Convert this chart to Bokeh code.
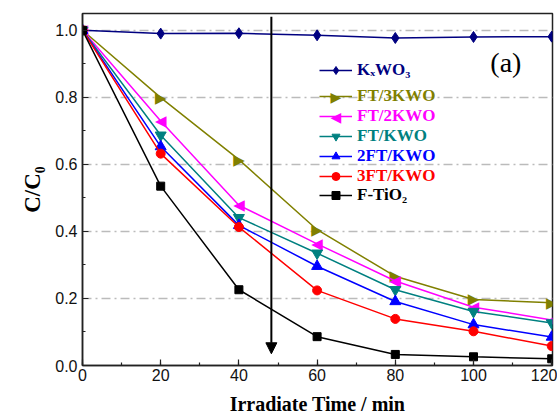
from bokeh.plotting import figure
from bokeh.models import (Range1d, Legend, LegendItem, Label, Arrow, NormalHead,
                          FixedTicker, CustomJSTickFormatter)
from bokeh.core.properties import value
from bokeh.embed import file_html
from bokeh.resources import INLINE

# ---- data ----
time_min = [0, 20, 40, 60, 80, 100, 120]
kxwo3 = [1.0, 0.990, 0.991, 0.985, 0.977, 0.980, 0.981]
ft_3kwo = [1.0, 0.799, 0.614, 0.405, 0.266, 0.197, 0.187]
ft_2kwo = [1.0, 0.729, 0.478, 0.363, 0.252, 0.174, 0.136]
ft_kwo = [1.0, 0.687, 0.441, 0.335, 0.226, 0.161, 0.127]
ft2_kwo = [1.0, 0.653, 0.418, 0.296, 0.191, 0.122, 0.085]
ft3_kwo = [1.0, 0.632, 0.413, 0.224, 0.139, 0.102, 0.058]
f_tio2 = [1.0, 0.535, 0.226, 0.086, 0.033, 0.026, 0.020]

series_labels = ["KₓWO₃", "FT/3KWO", "FT/2KWO", "FT/KWO", "2FT/KWO", "3FT/KWO", "F-TiO₂"]
series_values = [kxwo3, ft_3kwo, ft_2kwo, ft_kwo, ft2_kwo, ft3_kwo, f_tio2]
series_colors = ["#000080", "#808000", "#FF00FF", "#008080", "#0000FF", "#FF0000", "#000000"]
# scatter markers; "right"/"left" are drawn as triangle characters
series_markers = ["diamond", "right", "left", "inverted_triangle", "triangle", "circle", "square"]
series_sizes = [11, 11, 11, 11, 11, 9, 8]
triangle_chars = {"right": "▶", "left": "◀"}

x_ticks = [0, 20, 40, 60, 80, 100, 120]
y_ticks = [0.0, 0.2, 0.4, 0.6, 0.8, 1.0]

arrow_time = 48.3
arrow_from = 1.04
arrow_to = 0.035

X_MAX, Y_MAX = 120.2, 1.05
FRAME_W, FRAME_H = 470, 352

# ---- figure ----
p = figure(width=557, height=417, output_backend="svg", toolbar_location=None,
           x_range=Range1d(0, X_MAX), y_range=Range1d(0, Y_MAX),
           min_border_left=82, min_border_right=5, min_border_top=13, min_border_bottom=52)
p.background_fill_color = "white"
p.border_fill_color = "white"
p.outline_line_color = "#222222"
p.outline_line_width = 1.5

p.xgrid.visible = False
p.ygrid.ticker = FixedTicker(ticks=y_ticks)
p.ygrid.grid_line_color = "#bbbbbb"
p.ygrid.grid_line_width = 1.3
p.ygrid.grid_line_dash = "9 4 2 4"

for ax in (p.xaxis[0], p.yaxis[0]):
    ax.axis_line_color = "#222222"
    ax.axis_line_width = 1.5
    ax.major_tick_in = 6
    ax.major_tick_out = 0
    ax.minor_tick_in = 3
    ax.minor_tick_out = 0
    ax.major_tick_line_color = "#222222"
    ax.minor_tick_line_color = "#222222"
    ax.major_tick_line_width = 1.2
    ax.minor_tick_line_width = 1.2
    ax.major_label_text_font = "Liberation Sans"
    ax.major_label_text_font_size = "16px"
    ax.major_label_text_color = "#111111"
    ax.axis_label_text_font = "Liberation Serif"
    ax.axis_label_text_font_style = "bold"
    ax.axis_label_text_color = "#000000"

p.xaxis.ticker = FixedTicker(ticks=x_ticks, minor_ticks=list(range(0, 121, 10)))
p.yaxis.ticker = FixedTicker(ticks=y_ticks, minor_ticks=[i / 10 for i in range(0, 11)])
p.xaxis.major_label_standoff = 3
p.yaxis.major_label_standoff = 5
p.yaxis.formatter = CustomJSTickFormatter(code="return tick.toFixed(1);")

p.xaxis.axis_label = "Irradiate Time / min"
p.xaxis.axis_label_text_font_size = "20px"
p.xaxis.axis_label_standoff = 9
p.yaxis.axis_label = "C/C₀"
p.yaxis.axis_label_text_font_size = "23px"
p.yaxis.axis_label_standoff = 7

# ---- series ----
legend_rows_py = [70, 96, 116, 136, 156, 176, 195]  # legend row centres (px below plot top)
legend_x_px = 237                                   # legend glyph start (px from frame left)
for lab, vals, col, mk, sz, py in zip(series_labels, series_values, series_colors,
                                      series_markers, series_sizes, legend_rows_py):
    lr = p.line(time_min, vals, line_color=col, line_width=1.5)
    renderers = [lr]
    if mk in triangle_chars:
        ch = triangle_chars[mk]
        p.text(time_min, vals, text=[ch] * len(time_min), text_color=col,
               text_font=value("DejaVu Sans"), text_font_size="15px",
               text_align="center", text_baseline="middle")
        # legend symbol placed at the centre of the legend glyph
        gx = (legend_x_px + 16.5) * X_MAX / FRAME_W
        gy = (365 - py) * Y_MAX / FRAME_H
        p.add_layout(Label(x=gx, y=gy, text=ch, text_color=col, text_font="DejaVu Sans",
                           text_font_size="14px", text_align="center",
                           text_baseline="middle"))
    else:
        sr = p.scatter(time_min, vals, marker=mk, size=sz, fill_color=col, line_color=col)
        renderers.append(sr)
    leg = Legend(items=[LegendItem(label=lab, renderers=renderers)],
                 location=(legend_x_px, 365 - py - 10),
                 background_fill_alpha=0, border_line_alpha=0,
                 padding=0, margin=0, spacing=0,
                 glyph_width=33, glyph_height=20, label_height=20,
                 label_standoff=5,
                 label_text_font="Liberation Serif", label_text_font_style="bold",
                 label_text_font_size="17px", label_text_color=col)
    p.add_layout(leg)

# ---- arrow and panel label ----
p.add_layout(Arrow(end=NormalHead(size=11, fill_color="black", line_color="black"),
                   x_start=arrow_time, y_start=arrow_from,
                   x_end=arrow_time, y_end=arrow_to,
                   line_color="black", line_width=2))
p.add_layout(Label(x=104.3, y=0.905, text="(a)", text_font="Liberation Serif",
                   text_font_size="28px", text_baseline="middle", text_color="black"))

open("out.html", "w").write(file_html(p, INLINE))
